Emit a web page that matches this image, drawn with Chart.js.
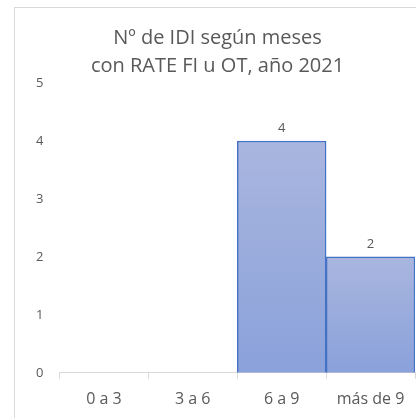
<!DOCTYPE html>
<html>
<head>
<meta charset="utf-8">
<script src="https://cdn.jsdelivr.net/npm/chart.js@4/dist/chart.umd.min.js"></script>
<style>
  html, body { margin: 0; padding: 0; background: #fff; overflow: hidden; }
  #wrap { position: relative; width: 416px; height: 418px; overflow: hidden; }
  #frame { position: absolute; left: 14px; top: 7px; width: 430px; height: 430px; border: 1px solid #d9d9d9; box-sizing: border-box; pointer-events: none; }
  canvas { position: absolute; left: 0; top: 0; }
</style>
</head>
<body>
<div id="wrap">
  <canvas id="myChart" width="440" height="424"></canvas>
  <div id="frame"></div>
</div>
<script>
// datos
var categorias = ['0 a 3', '3 a 6', '6 a 9', 'más de 9'];
var valores = [0, 0, 4, 2];
var titulo = ['Nº de IDI según meses', 'con RATE FI u OT, año 2021'];

var gris = '#595959';
var fuente = '"Open Sans", "Noto Sans", sans-serif';

// etiqueta encima de cada barra (solo si > 0)
var etiquetas = {
    id: 'etiquetas',
    afterDatasetsDraw: function(chart) {
        var ctx = chart.ctx;
        var meta = chart.getDatasetMeta(0);
        ctx.save();
        ctx.fillStyle = gris;
        ctx.font = '13px ' + fuente;
        ctx.textAlign = 'center';
        ctx.textBaseline = 'bottom';
        meta.data.forEach(function(bar, i) {
            if (valores[i] > 0) {
                ctx.fillText(String(valores[i]), bar.x, bar.y - 6);
            }
        });
        ctx.restore();
    }
};

function relleno(context) {
    var chart = context.chart;
    if (!chart.chartArea || context.parsed === undefined) return '#9aaddc';
    var y = chart.scales.y;
    var top = y.getPixelForValue(context.parsed.y);
    var base = y.getPixelForValue(0);
    if (!(base > top)) return '#9aaddc';
    var g = chart.ctx.createLinearGradient(0, top, 0, base);
    g.addColorStop(0, '#a9b6df');
    g.addColorStop(1, '#8aa1da');
    return g;
}

var ctx = document.getElementById('myChart').getContext('2d');
var myChart = new Chart(ctx, {
    type: 'bar',
    data: {
        labels: categorias,
        datasets: [{
            data: valores,
            backgroundColor: relleno,
            borderColor: '#4472c4',
            borderWidth: 1.5,
            borderSkipped: 'bottom',
            barPercentage: 1,
            categoryPercentage: 1
        }]
    },
    options: {
        responsive: false,
        animation: false,
        layout: { padding: { left: 20, right: 25, top: 24, bottom: 4 } },
        plugins: {
            legend: { display: false },
            tooltip: { enabled: false },
            title: {
                display: true,
                text: titulo,
                color: gris,
                font: { size: 20, family: fuente, weight: 'normal', lineHeight: 1.4 },
                padding: { top: 0, bottom: 3 }
            }
        },
        scales: {
            x: {
                grid: { display: true, drawOnChartArea: false, drawTicks: true, tickLength: 6, color: '#d9d9d9', offset: true },
                border: { display: true, color: '#d9d9d9' },
                ticks: { color: gris, font: { size: 16, family: fuente }, padding: 11 }
            },
            y: {
                min: 0,
                max: 5,
                grid: { display: false, drawTicks: false },
                border: { display: false },
                ticks: { stepSize: 1, color: gris, font: { size: 13, family: fuente }, padding: 16 }
            }
        }
    },
    plugins: [etiquetas]
});
</script>
</body>
</html>
